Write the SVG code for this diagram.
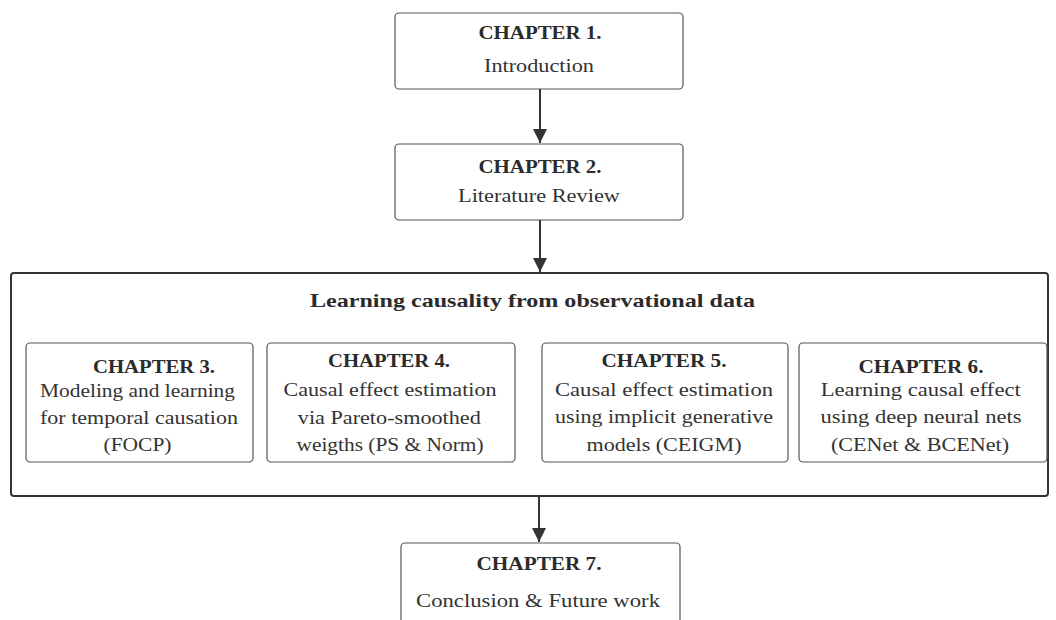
<svg xmlns="http://www.w3.org/2000/svg" width="1056" height="620" viewBox="0 0 1056 620">
  <style>
    .box { fill: #ffffff; stroke: #555555; stroke-width: 1.2; }
    .frame { fill: #ffffff; stroke: #333333; stroke-width: 2; }
    .head { font-family: "Liberation Serif", serif; font-weight: bold; font-size: 19px; fill: #2b2b2b; text-anchor: middle; }
    .body { font-family: "Liberation Serif", serif; font-size: 19px; fill: #333333; text-anchor: middle; }
    .title { font-family: "Liberation Serif", serif; font-weight: bold; font-size: 19px; fill: #2b2b2b; text-anchor: middle; }
    .link { stroke: #333333; stroke-width: 2; fill: none; }
  </style>
  <defs>
    <marker id="arrow" viewBox="0 0 14 16" refX="14" refY="8" markerWidth="14" markerHeight="16" markerUnits="userSpaceOnUse" orient="auto">
      <path d="M0,1 L14,8 L0,15 Z" fill="#333333"/>
    </marker>
  </defs>

  <rect width="1056" height="620" fill="#ffffff"/>

  <!-- outer group frame -->
  <g id="group-observational">
    <rect class="frame" x="11" y="273" width="1037" height="223" rx="3"/>
    <text class="title" x="532.5" y="306.5" textLength="445" lengthAdjust="spacingAndGlyphs">Learning causality from observational data</text>
  </g>

  <g id="chapter1">
    <rect class="box" x="395" y="13" width="288" height="76" rx="4"/>
    <text class="head" x="540" y="39" textLength="123" lengthAdjust="spacingAndGlyphs">CHAPTER 1.</text>
    <text class="body" x="539" y="71.5" textLength="110" lengthAdjust="spacingAndGlyphs">Introduction</text>
  </g>

  <g id="chapter2">
    <rect class="box" x="395" y="144" width="288" height="76" rx="4"/>
    <text class="head" x="540" y="172.5" textLength="123" lengthAdjust="spacingAndGlyphs">CHAPTER 2.</text>
    <text class="body" x="539" y="202" textLength="162" lengthAdjust="spacingAndGlyphs">Literature Review</text>
  </g>

  <g id="chapter3">
    <rect class="box" x="26" y="343" width="227" height="119" rx="4"/>
    <text class="head" x="154" y="372.5" textLength="122" lengthAdjust="spacingAndGlyphs">CHAPTER 3.</text>
    <text class="body" x="137.5" y="396.5" textLength="195" lengthAdjust="spacingAndGlyphs">Modeling and learning</text>
    <text class="body" x="139" y="424" textLength="198" lengthAdjust="spacingAndGlyphs">for temporal causation</text>
    <text class="body" x="137.5" y="450.5" textLength="68" lengthAdjust="spacingAndGlyphs">(FOCP)</text>
  </g>

  <g id="chapter4">
    <rect class="box" x="267" y="343" width="248" height="119" rx="4"/>
    <text class="head" x="389" y="367" textLength="122" lengthAdjust="spacingAndGlyphs">CHAPTER 4.</text>
    <text class="body" x="390" y="396" textLength="213" lengthAdjust="spacingAndGlyphs">Causal effect estimation</text>
    <text class="body" x="389.3" y="423.5" textLength="183" lengthAdjust="spacingAndGlyphs">via Pareto-smoothed</text>
    <text class="body" x="390" y="450.5" textLength="187" lengthAdjust="spacingAndGlyphs">weigths (PS &amp; Norm)</text>
  </g>

  <g id="chapter5">
    <rect class="box" x="542" y="343" width="246" height="119" rx="4"/>
    <text class="head" x="664" y="367" textLength="125" lengthAdjust="spacingAndGlyphs">CHAPTER 5.</text>
    <text class="body" x="664" y="396" textLength="218" lengthAdjust="spacingAndGlyphs">Causal effect estimation</text>
    <text class="body" x="664" y="423" textLength="218" lengthAdjust="spacingAndGlyphs">using implicit generative</text>
    <text class="body" x="664" y="450.5" textLength="155" lengthAdjust="spacingAndGlyphs">models (CEIGM)</text>
  </g>

  <g id="chapter6">
    <rect class="box" x="799" y="343" width="248" height="119" rx="4"/>
    <text class="head" x="921" y="372.5" textLength="125" lengthAdjust="spacingAndGlyphs">CHAPTER 6.</text>
    <text class="body" x="920.7" y="396" textLength="200" lengthAdjust="spacingAndGlyphs">Learning causal effect</text>
    <text class="body" x="921" y="423" textLength="201" lengthAdjust="spacingAndGlyphs">using deep neural nets</text>
    <text class="body" x="920" y="450.5" textLength="178" lengthAdjust="spacingAndGlyphs">(CENet &amp; BCENet)</text>
  </g>

  <g id="chapter7">
    <rect class="box" x="401" y="543" width="279" height="100" rx="4"/>
    <text class="head" x="539" y="569.5" textLength="125" lengthAdjust="spacingAndGlyphs">CHAPTER 7.</text>
    <text class="body" x="538" y="606.5" textLength="244" lengthAdjust="spacingAndGlyphs">Conclusion &amp; Future work</text>
  </g>

  <g id="connectors">
    <line class="link" x1="540" y1="89" x2="540" y2="143" marker-end="url(#arrow)"/>
    <line class="link" x1="540" y1="220" x2="540" y2="272" marker-end="url(#arrow)"/>
    <line class="link" x1="539" y1="497" x2="539" y2="542" marker-end="url(#arrow)"/>
  </g>
</svg>
